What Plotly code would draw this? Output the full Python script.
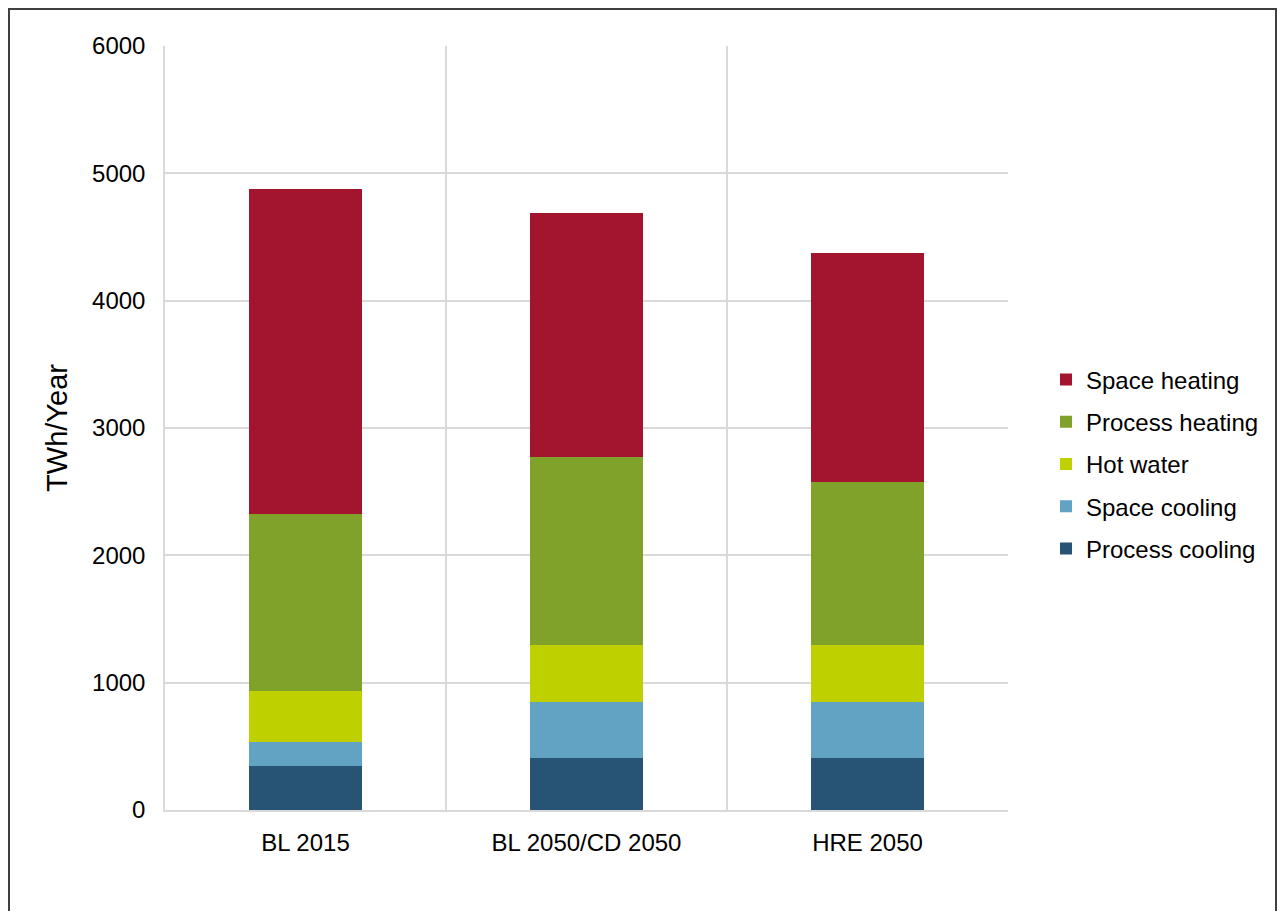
import plotly.graph_objects as go

scenarios = ["BL 2015", "BL 2050/CD 2050", "HRE 2050"]

process_cooling = [345, 410, 410]
space_cooling = [190, 440, 440]
hot_water = [400, 445, 445]
process_heating = [1390, 1475, 1280]
space_heating = [2555, 1915, 1800]

series = [
    ("Process cooling", process_cooling, "#275475"),
    ("Space cooling", space_cooling, "#62A3C4"),
    ("Hot water", hot_water, "#BFD000"),
    ("Process heating", process_heating, "#80A22B"),
    ("Space heating", space_heating, "#A3142F"),
]

fig = go.Figure()
for i, (name, vals, col) in enumerate(series):
    fig.add_trace(go.Bar(x=scenarios, y=vals, name=name, marker_color=col,
                         marker_line_width=0, width=0.4, legendgroup=name,
                         legendrank=len(series) - i))

# page offset of the plot div (body margin)
O = 8
# plot area in page px: left 165, right 1008, top 46, bottom 810
L, R, T, B = 165 - O, 1008 - O, 46 - O, 810 - O
W, H = 1285 - 2 * O, 919 - 2 * O
pw, ph = R - L, B - T

fig.update_layout(
    width=W, height=H,
    barmode="stack",
    plot_bgcolor="white",
    paper_bgcolor="white",
    margin=dict(l=L, r=W - R, t=T, b=H - B),
    font=dict(family="Liberation Sans, Arial, sans-serif", size=24, color="#000000"),
    yaxis=dict(
        title=dict(text="TWh/Year", standoff=16),
        range=[0, 6000], dtick=1000,
        showgrid=True, gridcolor="#D9D9D9", gridwidth=1.5,
        showline=True, linecolor="#D9D9D9", linewidth=1.5,
        zeroline=False, ticks="", ticklabelstandoff=13,
    ),
    xaxis=dict(
        showgrid=True, gridcolor="#D9D9D9", gridwidth=1.5,
        tickson="boundaries", ticks="",
        showline=True, linecolor="#D9D9D9", linewidth=2,
        ticklabelstandoff=10,
    ),
    legend=dict(
        x=(1046 - O - L) / pw, xanchor="left",
        y=(B - (464 - O)) / ph, yanchor="middle",
        traceorder="grouped", tracegroupgap=8,
        font=dict(size=24),
    ),
    # outer chart frame
    shapes=[dict(
        type="rect", xref="paper", yref="paper",
        x0=(1 - L) / pw, x1=(W - 1 - L) / pw,
        y0=(B - H - 20) / ph, y1=(B - 1) / ph,
        line=dict(color="#404040", width=2),
    )],
)

fig.write_html("out.html")
